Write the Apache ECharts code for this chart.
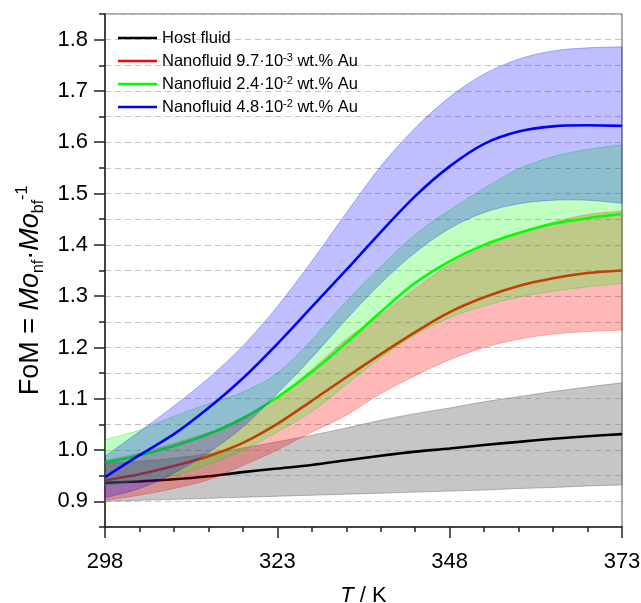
<!DOCTYPE html>
<html>
<head>
<meta charset="utf-8">
<script src="https://cdn.jsdelivr.net/npm/echarts@6/dist/echarts.min.js"></script>
<style>
  html, body { margin: 0; padding: 0; background: #fff; }
  #chart { width: 641px; height: 603px; }
</style>
</head>
<body>
<div id="chart"></div>
<script>
// temperature grid, K
const temps = [298, 303, 308, 313, 318, 323, 328, 333, 338, 343, 348, 353, 358, 363, 368, 373];

// host fluid
const host   = [0.936, 0.939, 0.943, 0.949, 0.957, 0.964, 0.971, 0.980, 0.989, 0.997, 1.003, 1.010, 1.016, 1.022, 1.027, 1.031];
const hostLo = [0.900, 0.902, 0.904, 0.906, 0.908, 0.910, 0.912, 0.914, 0.916, 0.918, 0.920, 0.922, 0.925, 0.927, 0.930, 0.932];
const hostHi = [0.974, 0.978, 0.984, 0.993, 1.004, 1.016, 1.029, 1.043, 1.058, 1.071, 1.082, 1.094, 1.104, 1.114, 1.123, 1.131];

// nanofluid 9.7e-3 wt.% Au
const red   = [0.941, 0.953, 0.969, 0.988, 1.014, 1.051, 1.096, 1.142, 1.187, 1.230, 1.269, 1.298, 1.320, 1.335, 1.345, 1.350];
const redLo = [0.902, 0.912, 0.925, 0.942, 0.970, 1.000, 1.035, 1.068, 1.110, 1.145, 1.176, 1.200, 1.216, 1.226, 1.231, 1.234];
const redHi = [0.980, 0.994, 1.013, 1.034, 1.058, 1.102, 1.157, 1.216, 1.264, 1.315, 1.362, 1.396, 1.424, 1.444, 1.459, 1.466];

// nanofluid 2.4e-2 wt.% Au
const green   = [0.975, 0.990, 1.008, 1.031, 1.062, 1.103, 1.152, 1.209, 1.269, 1.326, 1.368, 1.400, 1.423, 1.441, 1.452, 1.460];
const greenLo = [0.930, 0.941, 0.950, 0.972, 1.000, 1.035, 1.075, 1.128, 1.180, 1.225, 1.258, 1.281, 1.298, 1.310, 1.318, 1.325];
const greenHi = [1.020, 1.039, 1.066, 1.090, 1.113, 1.150, 1.215, 1.290, 1.358, 1.420, 1.468, 1.510, 1.548, 1.572, 1.586, 1.595];

// nanofluid 4.8e-2 wt.% Au
const blue   = [0.947, 0.990, 1.031, 1.082, 1.140, 1.207, 1.279, 1.351, 1.425, 1.495, 1.553, 1.597, 1.621, 1.631, 1.633, 1.632];
const blueLo = [0.907, 0.925, 0.955, 0.995, 1.045, 1.110, 1.180, 1.255, 1.325, 1.385, 1.432, 1.463, 1.480, 1.487, 1.487, 1.481];
const blueHi = [0.988, 1.036, 1.086, 1.140, 1.203, 1.280, 1.368, 1.462, 1.553, 1.628, 1.688, 1.733, 1.762, 1.778, 1.784, 1.786];

const seriesNames = ['Host fluid', 'Nanofluid 9.7·10-3 wt.% Au', 'Nanofluid 2.4·10-2 wt.% Au', 'Nanofluid 4.8·10-2 wt.% Au'];
const legendLabels = ['Host fluid', 'Nanofluid 9.7·10{sup|-3} wt.% Au', 'Nanofluid 2.4·10{sup|-2} wt.% Au', 'Nanofluid 4.8·10{sup|-2} wt.% Au'];

// ticks
const xMajor = [298, 323, 348, 373];
const xMinor = [298, 303, 308, 313, 318, 323, 328, 333, 338, 343, 348, 353, 358, 363, 368, 373];
const yMajor = [0.9, 1.0, 1.1, 1.2, 1.3, 1.4, 1.5, 1.6, 1.7, 1.8];
const yMinor = [0.85, 0.9, 0.95, 1.0, 1.05, 1.1, 1.15, 1.2, 1.25, 1.3, 1.35, 1.4, 1.45, 1.5, 1.55, 1.6, 1.65, 1.7, 1.75, 1.8, 1.85];

const FONT = 'Liberation Sans, Arial, sans-serif';

// catmull-rom through screen points
function curve(p) {
  let s = '';
  for (let i = 0; i < p.length - 1; i++) {
    const p0 = p[i - 1] || p[i], p1 = p[i], p2 = p[i + 1], p3 = p[i + 2] || p2;
    const c1 = [p1[0] + (p2[0] - p0[0]) / 6, p1[1] + (p2[1] - p0[1]) / 6];
    const c2 = [p2[0] - (p3[0] - p1[0]) / 6, p2[1] - (p3[1] - p1[1]) / 6];
    s += ' C' + c1[0] + ' ' + c1[1] + ' ' + c2[0] + ' ' + c2[1] + ' ' + p2[0] + ' ' + p2[1];
  }
  return s;
}

function band(lo, hi, fill, stroke, z) {
  return {
    type: 'custom',
    silent: true,
    z: z,
    data: temps.map((t, i) => [t, lo[i], hi[i]]),
    renderItem: function (params, api) {
      if (params.dataIndex !== 0) return;
      const up = temps.map((t, i) => api.coord([t, hi[i]]));
      const dn = temps.map((t, i) => api.coord([t, lo[i]])).reverse();
      const d = 'M' + up[0][0] + ' ' + up[0][1] + curve(up) +
        ' L' + dn[0][0] + ' ' + dn[0][1] + curve(dn) + ' Z';
      return {
        type: 'path',
        shape: { pathData: d },
        style: { fill: fill, stroke: stroke, lineWidth: 0.8 }
      };
    }
  };
}

function line(name, vals, color, z) {
  return {
    name: name,
    type: 'line',
    z: z,
    data: temps.map((t, i) => [t, vals[i]]),
    smooth: 0.3,
    showSymbol: false,
    symbol: 'none',
    lineStyle: { color: color, width: 2.6 },
    itemStyle: { color: color }
  };
}

const chart = echarts.init(document.getElementById('chart'));

const axisLineStyle = { color: '#222', width: 1.5 };

chart.setOption({
  animation: false,
  grid: {
    left: 105, right: 19, top: 14, bottom: 76,
    containLabel: false, outerBoundsMode: 'none',
    show: true, borderColor: '#555', borderWidth: 1
  },
  legend: {
    data: seriesNames,
    orient: 'vertical',
    left: 118,
    top: 29,
    padding: 0,
    icon: 'rect',
    itemWidth: 39,
    itemHeight: 2.5,
    itemGap: 5,
    formatter: name => legendLabels[seriesNames.indexOf(name)],
    textStyle: {
      fontFamily: FONT, fontSize: 16.5, color: '#000', lineHeight: 18,
      rich: { sup: { fontFamily: FONT, fontSize: 11, lineHeight: 11, verticalAlign: 'top', color: '#000' } }
    }
  },
  xAxis: [{
    type: 'value', min: 298, max: 373,
    name: '{i|T} / K', nameLocation: 'middle', nameGap: 58,
    nameTextStyle: { fontFamily: FONT, fontSize: 22, color: '#000', rich: { i: { fontFamily: FONT, fontSize: 22, fontStyle: 'italic', color: '#000' } } },
    axisLine: { show: true, lineStyle: axisLineStyle },
    axisTick: { show: true, length: 5, lineStyle: axisLineStyle, customValues: xMinor },
    axisLabel: { customValues: xMajor, fontFamily: FONT, fontSize: 22, color: '#000', margin: 24 },
    splitLine: { show: false }
  }, {
    type: 'value', min: 298, max: 373, position: 'bottom',
    axisLine: { show: false },
    axisTick: { show: true, length: 11, lineStyle: axisLineStyle, customValues: xMajor },
    axisLabel: { show: false },
    splitLine: { show: false }
  }],
  yAxis: [{
    type: 'value', min: 0.85, max: 1.85,
    name: 'FoM = {i|Mo}{sub|nf}·{i|Mo}{sub|bf}{sup|-1}',
    nameLocation: 'middle', nameRotate: 90, nameGap: 55,
    nameTextStyle: {
      fontFamily: FONT, fontSize: 27, color: '#000', lineHeight: 32,
      padding: [0, 40, 0, 0],
      rich: {
        i: { fontFamily: FONT, fontSize: 27, fontStyle: 'italic', color: '#000', lineHeight: 32 },
        sub: { fontFamily: FONT, fontSize: 16, color: '#000', lineHeight: 16, verticalAlign: 'bottom' },
        sup: { fontFamily: FONT, fontSize: 16, color: '#000', lineHeight: 16, verticalAlign: 'top' }
      }
    },
    axisLine: { show: true, lineStyle: axisLineStyle },
    axisTick: { show: true, length: 6, lineStyle: axisLineStyle, customValues: yMinor },
    axisLabel: { customValues: yMajor, fontFamily: FONT, fontSize: 22, color: '#000', margin: 17, formatter: v => v.toFixed(1) },
    splitLine: { show: true, lineStyle: { color: '#c4c4c4', type: [6, 4], width: 1 } }
  }, {
    type: 'value', min: 0.85, max: 1.85, position: 'left',
    axisLine: { show: false },
    axisTick: { show: true, length: 11, lineStyle: axisLineStyle, customValues: yMajor },
    axisLabel: { show: false },
    splitLine: { show: false }
  }],
  series: [
    band(hostLo, hostHi, 'rgba(128,128,128,0.45)', 'rgba(90,90,90,0.5)', 2),
    line(seriesNames[0], host, '#000000', 3),
    band(redLo, redHi, 'rgba(255,0,0,0.28)', 'rgba(255,0,0,0.35)', 4),
    line(seriesNames[1], red, '#ff0000', 5),
    band(greenLo, greenHi, 'rgba(0,255,0,0.25)', 'rgba(0,200,0,0.35)', 6),
    line(seriesNames[2], green, '#00ff00', 7),
    band(blueLo, blueHi, 'rgba(0,0,255,0.25)', 'rgba(0,0,255,0.35)', 8),
    line(seriesNames[3], blue, '#0000ff', 9)
  ]
});
</script>
</body>
</html>
